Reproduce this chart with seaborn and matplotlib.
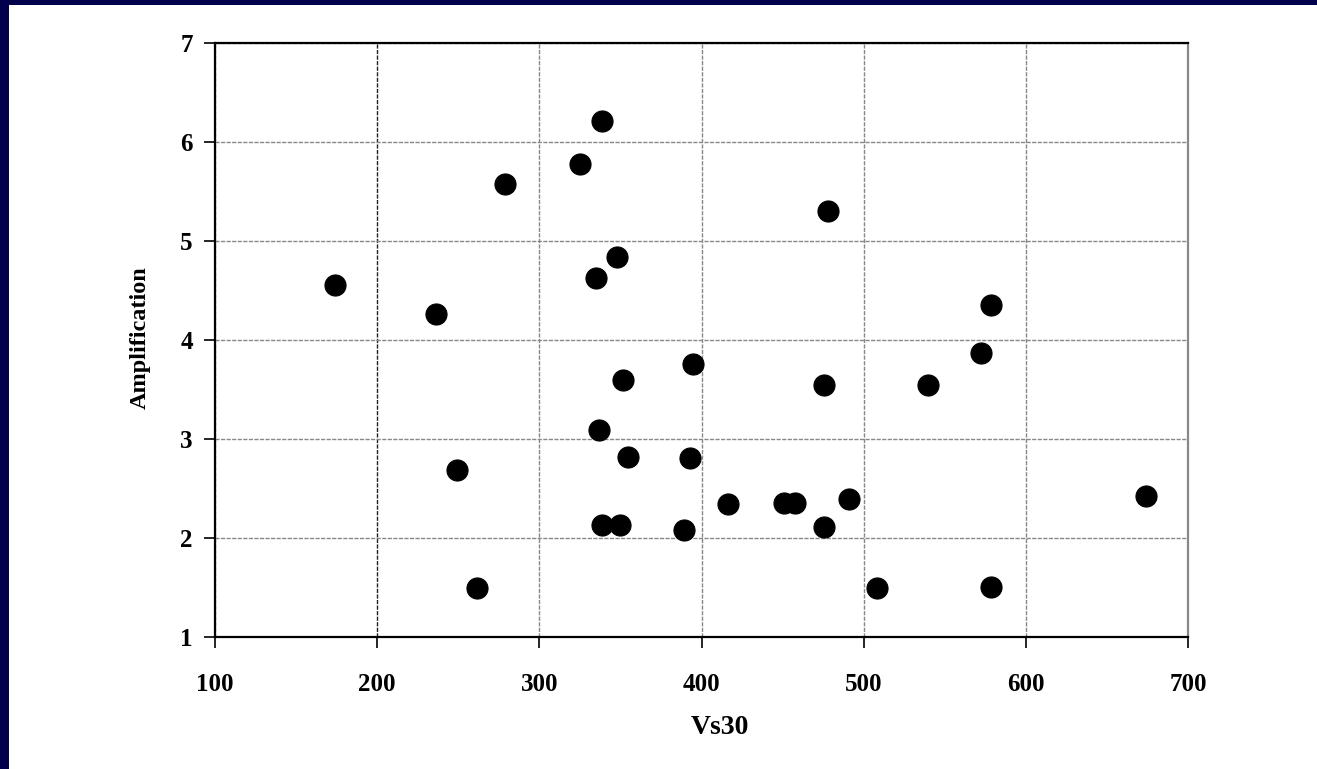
import pandas as pd
import seaborn as sns
import matplotlib.pyplot as plt
from matplotlib.patches import Rectangle

# Vs30 vs amplification
vs30 = [174, 236, 249, 261.5, 279, 325, 338.5, 335, 348, 351.7, 336.8, 354.8,
        338.8, 349.7, 389.3, 392.8, 394.9, 416.5, 450.8, 457.6, 475.7, 475.7,
        478, 491, 508, 539.4, 572.2, 578.8, 578.8, 674.4]
amp = [4.56, 4.26, 2.69, 1.50, 5.58, 5.78, 6.21, 4.63, 4.84, 3.60, 3.09, 2.82,
       2.13, 2.13, 2.08, 2.81, 3.76, 2.34, 2.35, 2.35, 2.11, 3.55,
       5.30, 2.39, 1.50, 3.55, 3.87, 4.35, 1.51, 2.42]

x_ticks = [100, 200, 300, 400, 500, 600, 700]
y_ticks = [1, 2, 3, 4, 5, 6, 7]


def get_data():
    df = pd.DataFrame({'Vs30': vs30, 'Amplification': amp})
    return df


def graph(data):
    sns.set_theme(style="white")
    plt.rcParams['font.family'] = ['Liberation Serif', 'DejaVu Serif']
    plt.rcParams['font.weight'] = 'bold'

    fig = plt.figure(figsize=(13.17, 7.69), dpi=100)
    fig.patch.set_facecolor('#00004c')
    # white slide panel, behind the axes
    fig.patches.append(Rectangle((9 / 1317, 0), 1 - 9 / 1317, 1 - 5 / 769,
                                 transform=fig.transFigure, facecolor='white',
                                 edgecolor='none', zorder=-10))

    ax = fig.add_axes([215 / 1317, 1 - 637 / 769, (1188 - 215) / 1317, (637 - 43) / 769])
    ax.set_facecolor('white')

    sns.scatterplot(ax=ax, x='Vs30', y='Amplification', data=data, color='black',
                    edgecolor='black', s=230, linewidth=0.8, zorder=3)

    ax.set_xlim(100, 700)
    ax.set_ylim(1, 7)
    ax.set_xticks(x_ticks)
    ax.set_yticks(y_ticks)

    ax.grid(True, linestyle=(0, (3, 1)), color='#888888', linewidth=1.0)
    ax.get_xgridlines()[1].set_color('#222222')

    ax.tick_params(axis='both', which='major', length=8, width=1.2, color='black',
                   labelsize=18, labelcolor='black', left=True, bottom=True)
    ax.tick_params(axis='y', pad=8)
    ax.tick_params(axis='x', pad=18)
    for lbl in ax.get_xticklabels() + ax.get_yticklabels():
        lbl.set_fontweight('bold')

    for side in ['left', 'bottom', 'top']:
        ax.spines[side].set_color('black')
        ax.spines[side].set_linewidth(1.6)
    ax.spines['right'].set_color('#888888')
    ax.spines['right'].set_linewidth(1.6)

    ax.set_xlabel('Vs30', fontsize=20, fontweight='bold', color='black')
    ax.set_ylabel('Amplification', fontsize=17.5, fontweight='bold', color='black')
    ax.xaxis.set_label_coords((720 - 215) / (1188 - 215), -(727 - 637) / (637 - 43))
    ax.yaxis.set_label_coords(-(215 - 140) / (1188 - 215), (637 - 338) / (637 - 43))
    ax.xaxis.label.set_va('center')
    ax.yaxis.label.set_va('center')

    fig.savefig('out.png', dpi=100, facecolor=fig.get_facecolor())


def main():
    df = get_data()
    graph(df)


main()
